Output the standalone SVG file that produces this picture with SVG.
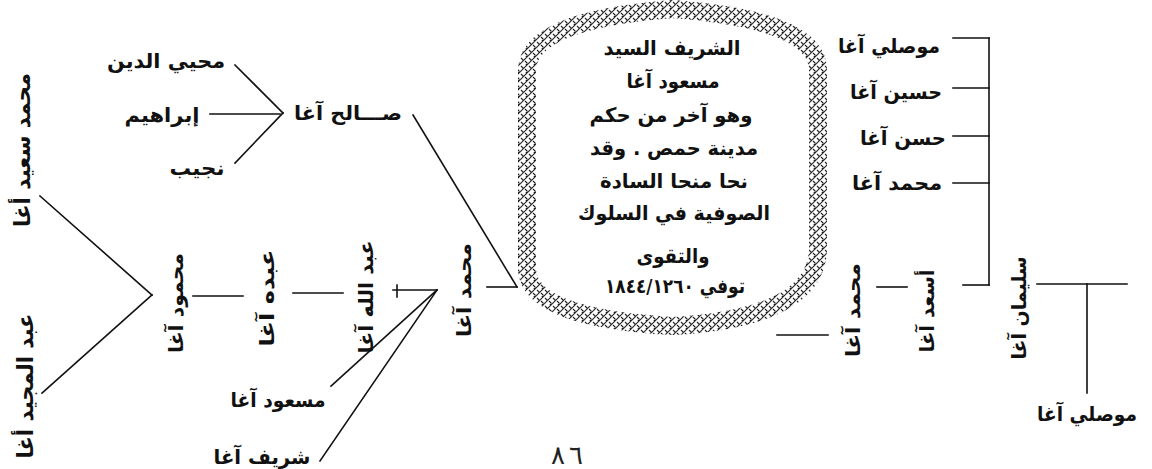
<svg xmlns="http://www.w3.org/2000/svg" width="1152" height="469" viewBox="0 0 1152 469">
<style>
.t{font-family:"DejaVu Sans",sans-serif;font-weight:bold;font-size:20px;fill:#111;text-anchor:middle;dominant-baseline:central}
.b{font-size:20px}
.v{font-size:20px}
.c{stroke:#111;stroke-width:1.6;fill:none;stroke-linecap:square}
</style>
<defs>
<pattern id="braid" patternUnits="userSpaceOnUse" width="8" height="8">
<rect width="8" height="8" fill="#fff"/>
<path d="M0,8 L8,0 M-1,1 L1,-1 M7,9 L9,7" stroke="#222" stroke-width="1.1"/>
<path d="M1,2 L3.5,4.5 M4.5,-1.5 L7,1 M5,5 L7.5,7.5 M-3,5 L-0.5,7.5" stroke="#222" stroke-width="1.1"/>
</pattern>
</defs>
<rect width="1152" height="469" fill="#fff"/>

<g id="connectors">
<line class="c" x1="40" y1="196" x2="152" y2="295"/>
<line class="c" x1="152" y1="295" x2="42" y2="393"/>
<line class="c" x1="193" y1="296" x2="243" y2="296"/>
<line class="c" x1="293" y1="293" x2="343" y2="293"/>
<line class="c" x1="393" y1="290" x2="437" y2="290"/>
<line class="c" x1="397" y1="285" x2="397" y2="297"/>
<line class="c" x1="331" y1="386" x2="437" y2="290"/>
<line class="c" x1="320" y1="461" x2="437" y2="290"/>
<line class="c" x1="235" y1="65" x2="283" y2="113"/>
<line class="c" x1="210" y1="114" x2="280" y2="114"/>
<line class="c" x1="235" y1="163" x2="283" y2="113"/>
<line class="c" x1="413" y1="115" x2="517" y2="287"/>
<line class="c" x1="487" y1="287" x2="517" y2="287"/>
<line class="c" x1="777" y1="335" x2="828" y2="335"/>
<line class="c" x1="877" y1="287" x2="907" y2="287"/>
<line class="c" x1="953" y1="38" x2="989" y2="38"/>
<line class="c" x1="953" y1="88" x2="989" y2="88"/>
<line class="c" x1="953" y1="136" x2="989" y2="136"/>
<line class="c" x1="953" y1="183" x2="989" y2="183"/>
<line class="c" x1="989" y1="38" x2="989" y2="285"/>
<line class="c" x1="963" y1="285" x2="989" y2="285"/>
<line class="c" x1="1037" y1="284" x2="1127" y2="284"/>
<line class="c" x1="1087" y1="284" x2="1087" y2="393"/>
</g>

<g id="n-mohammad-said"><text class="t v" direction="rtl" x="22" y="150" transform="rotate(-90 22 150)" textLength="154" lengthAdjust="spacingAndGlyphs" style="font-size:22px">محمد سعيد أغا</text></g>
<g id="n-abdulmajid"><text class="t v" direction="rtl" x="25" y="386" transform="rotate(-90 25 386)" textLength="145" lengthAdjust="spacingAndGlyphs" style="font-size:22px">عبد المجيد أغا</text></g>
<g id="n-mahmoud"><text class="t v" direction="rtl" x="176" y="303" transform="rotate(-90 176 303)" textLength="100" lengthAdjust="spacingAndGlyphs">محمود آغا</text></g>
<g id="n-abduh"><text class="t v" direction="rtl" x="267" y="298" transform="rotate(-90 267 298)" textLength="97" lengthAdjust="spacingAndGlyphs">عبده آغا</text></g>
<g id="n-abdullah"><text class="t v" direction="rtl" x="366" y="297" transform="rotate(-90 366 297)" textLength="113" lengthAdjust="spacingAndGlyphs">عبد الله آغا</text></g>
<g id="n-mohammad1"><text class="t v" direction="rtl" x="464" y="290" transform="rotate(-90 464 290)" textLength="94" lengthAdjust="spacingAndGlyphs">محمد آغا</text></g>
<g id="n-masoud"><text class="t" direction="rtl" x="278" y="400" textLength="95" lengthAdjust="spacingAndGlyphs">مسعود آغا</text></g>
<g id="n-sharif"><text class="t" direction="rtl" x="262" y="457" textLength="97" lengthAdjust="spacingAndGlyphs">شريف آغا</text></g>
<g id="n-muhyi"><text class="t" direction="rtl" x="166" y="61" textLength="118" lengthAdjust="spacingAndGlyphs">محيي الدين</text></g>
<g id="n-ibrahim"><text class="t" direction="rtl" x="162" y="115" textLength="75" lengthAdjust="spacingAndGlyphs">إبراهيم</text></g>
<g id="n-najib"><text class="t" direction="rtl" x="197" y="168" textLength="55" lengthAdjust="spacingAndGlyphs">نجيب</text></g>
<g id="n-saleh"><text class="t" direction="rtl" x="348" y="113" textLength="108" lengthAdjust="spacingAndGlyphs">صـــالح آغا</text></g>

<g id="n-central">
<path d="M527,70 Q528,20 673,9 Q818,20 818,70 L818,250 Q815,318 673,326 Q530,318 527,270 Z" fill="none" stroke="url(#braid)" stroke-width="18"/>
<text class="t b" direction="rtl" x="672" y="48" textLength="137" lengthAdjust="spacingAndGlyphs">الشريف السيد</text>
<text class="t b" direction="rtl" x="673" y="81" textLength="93" lengthAdjust="spacingAndGlyphs">مسعود آغا</text>
<text class="t b" direction="rtl" x="671" y="115" textLength="163" lengthAdjust="spacingAndGlyphs">وهو آخر من حكم</text>
<text class="t b" direction="rtl" x="674" y="148" textLength="168" lengthAdjust="spacingAndGlyphs">مدينة حمص . وقد</text>
<text class="t b" direction="rtl" x="674" y="181" textLength="148" lengthAdjust="spacingAndGlyphs">نحا منحا السادة</text>
<text class="t b" direction="rtl" x="674" y="213" textLength="192" lengthAdjust="spacingAndGlyphs">الصوفية في السلوك</text>
<text class="t b" direction="rtl" x="673" y="256" textLength="73" lengthAdjust="spacingAndGlyphs">والتقوى</text>
<text class="t b" direction="rtl" x="675" y="286" textLength="140" lengthAdjust="spacingAndGlyphs">توفي ١٢٦٠&#x200F;/&#x200F;١٨٤٤</text>
</g>

<g id="n-mousili1"><text class="t" direction="rtl" x="889" y="46" textLength="102" lengthAdjust="spacingAndGlyphs">موصلي آغا</text></g>
<g id="n-husayn"><text class="t" direction="rtl" x="896" y="92" textLength="92" lengthAdjust="spacingAndGlyphs">حسين آغا</text></g>
<g id="n-hasan"><text class="t" direction="rtl" x="903" y="138" textLength="86" lengthAdjust="spacingAndGlyphs">حسن آغا</text></g>
<g id="n-mohammad2"><text class="t" direction="rtl" x="897" y="183" textLength="90" lengthAdjust="spacingAndGlyphs">محمد آغا</text></g>
<g id="n-mohammad3"><text class="t v" direction="rtl" x="853" y="310" transform="rotate(-90 853 310)" textLength="94" lengthAdjust="spacingAndGlyphs">محمد آغا</text></g>
<g id="n-asad"><text class="t v" direction="rtl" x="927" y="311" transform="rotate(-90 927 311)" textLength="83" lengthAdjust="spacingAndGlyphs">أسعد آغا</text></g>
<g id="n-sulayman"><text class="t v" direction="rtl" x="1019" y="308" transform="rotate(-90 1019 308)" textLength="103" lengthAdjust="spacingAndGlyphs">سليمان آغا</text></g>
<g id="n-mousili2"><text class="t" direction="rtl" x="1087" y="414" textLength="100" lengthAdjust="spacingAndGlyphs">موصلي آغا</text></g>

<g id="page-number"><text x="567" y="455" textLength="32" lengthAdjust="spacing" style="font-family:'DejaVu Sans',sans-serif;font-size:26px;fill:#222;text-anchor:middle;dominant-baseline:central">٨٦</text></g>
</svg>
